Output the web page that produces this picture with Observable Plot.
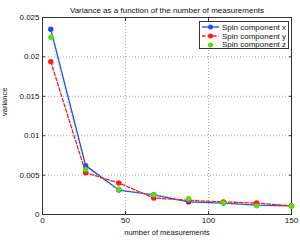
<!DOCTYPE html>
<html><head><meta charset="utf-8">
<script src="https://cdn.jsdelivr.net/npm/d3@7"></script>
<script src="https://cdn.jsdelivr.net/npm/@observablehq/plot@0.6"></script>
<style>
body{margin:0;background:#fff;}
#wrap{position:relative;width:300px;height:240px;font-family:"Liberation Sans",Arial,sans-serif;}
#legend{position:absolute;left:199px;top:21px;width:90px;height:28px;border:1px solid #333;background:#fff;box-sizing:border-box;padding-top:1px;}
.row{height:8.7px;display:flex;align-items:center;font-size:8px;color:#111;white-space:nowrap;}
.row svg{margin-left:2px;margin-right:3px;}
</style></head>
<body><div id="wrap"></div>
<script>
const nMeas = [5, 26, 46, 67, 88, 109, 129, 150];
const varX = [0.0235, 0.0062, 0.0031, 0.0025, 0.0016, 0.00145, 0.0012, 0.0011];
const varY = [0.0194, 0.0053, 0.0040, 0.0021, 0.0018, 0.0016, 0.00145, 0.0011];
const varZ = [0.0225, 0.0057, 0.0032, 0.0025, 0.0020, 0.00145, 0.0011, 0.00105];
const seriesNames = ["Spin component x", "Spin component y", "Spin component z"];
const seriesColors = ["#2545ff", "#ff1a1a", "#55e000"];
const seriesDash = [null, "3.5,2", "1,2.5"];
const seriesWidth = [1.3, 1.3, 0.8];
const seriesOpacity = [1, 1, 0.6];
const xTicks = [0, 50, 100, 150];
const yTicks = [0, 0.005, 0.01, 0.015, 0.02, 0.025];
const title = "Variance as a function of the number of measurements";
const xLabel = "number of measurements";
const yLabel = "variance";

const allVals = [varX, varY, varZ];
const series = allVals.map((vals, i) => vals.map((v, j) => ({x: nMeas[j], y: v, s: i})));

const marks = [
  Plot.gridX(xTicks, {stroke: "#888", strokeOpacity: 0.7, strokeDasharray: "1,2"}),
  Plot.gridY(yTicks, {stroke: "#888", strokeOpacity: 0.7, strokeDasharray: "1,2"}),
  Plot.frame({stroke: "#333", strokeWidth: 1}),
  Plot.axisX(xTicks, {anchor: "bottom", tickSize: -3, tickPadding: 6, fontSize: 8, label: null, stroke: "#333"}),
  Plot.axisX(xTicks, {anchor: "top", tickSize: -3, text: null, label: null, stroke: "#333"}),
  Plot.axisY(yTicks, {anchor: "left", tickSize: -3, tickPadding: 6, fontSize: 8, label: null, stroke: "#333", tickFormat: d => String(d)}),
  Plot.axisY(yTicks, {anchor: "right", tickSize: -3, text: null, label: null, stroke: "#333"})
];
series.forEach((data, i) => {
  marks.push(Plot.line(data, {x: "x", y: "y", stroke: seriesColors[i], strokeWidth: seriesWidth[i], strokeOpacity: seriesOpacity[i], strokeDasharray: seriesDash[i]}));
  marks.push(Plot.dot(data, {x: "x", y: "y", fill: seriesColors[i], r: 2.7}));
});
marks.push(Plot.text([title], {frameAnchor: "top", dy: -10, fontSize: 8, fill: "#111"}));
marks.push(Plot.text([xLabel], {frameAnchor: "bottom", dy: 20, fontSize: 7.5, fill: "#111"}));
marks.push(Plot.text([yLabel], {frameAnchor: "left", dx: -38, rotate: -90, fontSize: 7.5, fill: "#111"}));

const chart = Plot.plot({
  width: 300, height: 240,
  marginLeft: 42, marginRight: 9, marginTop: 17, marginBottom: 26,
  style: {fontFamily: "Liberation Sans, Arial, sans-serif", color: "#111", background: "#fff"},
  x: {domain: [0, 150]},
  y: {domain: [0, 0.025]},
  marks
});
const wrap = document.getElementById("wrap");
wrap.appendChild(chart);

const legend = document.createElement("div");
legend.id = "legend";
seriesNames.forEach((name, i) => {
  const row = document.createElement("div");
  row.className = "row";
  row.innerHTML = `<svg width="17" height="6"><line x1="0" x2="17" y1="3" y2="3" stroke="${seriesColors[i]}" stroke-width="${seriesWidth[i]}" stroke-opacity="${seriesOpacity[i]}" ${seriesDash[i] ? `stroke-dasharray="${seriesDash[i]}"` : ""}/><circle cx="8.5" cy="3" r="2.5" fill="${seriesColors[i]}"/></svg><span>${name}</span>`;
  legend.appendChild(row);
});
wrap.appendChild(legend);
</script></body></html>
